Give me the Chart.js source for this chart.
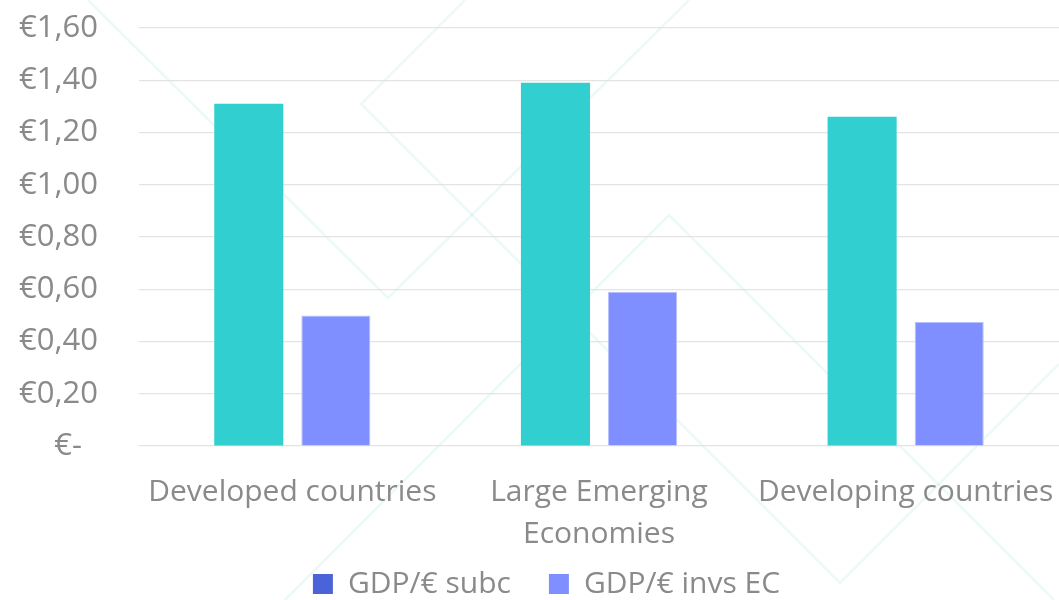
<!DOCTYPE html>
<html>
<head>
  <meta charset="utf-8"/>
  <script src="https://cdn.jsdelivr.net/npm/chart.js@4.4.1/dist/chart.umd.min.js"></script>
  <style>
    html, body { margin: 0; padding: 0; background: #ffffff; }
    #wrap { width: 1059px; height: 600px; position: relative; }
  </style>
</head>
<body>
  <div id="wrap"><canvas id="chart"></canvas></div>
  <script>
    // chart values
    var categories = ["Developed countries", ["Large Emerging", "Economies"], "Developing countries"];
    var seriesNames = ["GDP/\u20ac subc", "GDP/\u20ac invs EC"];
    var subcValues = [1.31, 1.39, 1.26];
    var invsValues = [0.50, 0.59, 0.475];
    var yTicks = [0, 0.2, 0.4, 0.6, 0.8, 1.0, 1.2, 1.4, 1.6];

    var barColors = ["#31cfcf", "#7f8fff"];
    var legendColors = ["#4b63d8", "#7f8fff"];
    var textColor = "#8a8a8a";
    var fontFamily = "'Open Sans', 'Noto Sans', sans-serif";

    // faint decorative lines in the slide background
    var decor = [
      [[88, 0], [388, 298], [689, 0]],
      [[465, 0], [361, 104], [840, 583], [1059, 364]],
      [[285, 600], [669, 215], [1054, 600]]
    ];

    var decorPlugin = {
      id: "decor",
      beforeDraw: function(chart) {
        var ctx = chart.ctx;
        ctx.save();
        ctx.strokeStyle = "rgba(0,180,150,0.08)";
        ctx.lineWidth = 2.5;
        for (var path of decor) {
          ctx.beginPath();
          ctx.moveTo(path[0][0], path[0][1]);
          for (var i = 1; i < path.length; i++) ctx.lineTo(path[i][0], path[i][1]);
          ctx.stroke();
        }
        ctx.restore();
      },
      afterLayout: function(chart) {
        // the legend sits a little right of centre in the original
        if (chart.legend) chart.legend.left = 34;
        // let the two-line category label run under the legend box instead of being clipped
        chart.scales.x.bottom = chart.height;
      }
    };

    function euro(v) {
      if (Math.abs(v) < 1e-9) return "\u20ac-  ";
      return "\u20ac" + v.toFixed(2).replace(".", ",");
    }

    new Chart(document.getElementById("chart"), {
      type: "bar",
      data: {
        labels: categories,
        datasets: [
          {
            label: seriesNames[0],
            data: subcValues,
            backgroundColor: barColors[0],
            borderWidth: 0
          },
          {
            label: seriesNames[1],
            data: invsValues,
            backgroundColor: barColors[1],
            borderColor: "#b9c1ff",
            borderWidth: 1
          }
        ]
      },
      options: {
        responsive: true,
        maintainAspectRatio: false,
        animation: false,
        layout: { padding: { top: 28, left: 0, right: 0, bottom: -9 } },
        datasets: {
          bar: { categoryPercentage: 0.568, barPercentage: 0.793 }
        },
        plugins: {
          tooltip: { enabled: false },
          legend: {
            position: "bottom",
            labels: {
              boxWidth: 20,
              boxHeight: 20,
              padding: 38,
              color: textColor,
              font: { family: fontFamily, size: 30 },
              generateLabels: function(chart) {
                return chart.data.datasets.map(function(ds, i) {
                  return {
                    text: ds.label,
                    fillStyle: legendColors[i],
                    strokeStyle: legendColors[i],
                    lineWidth: 0,
                    fontColor: textColor,
                    hidden: !chart.isDatasetVisible(i),
                    datasetIndex: i
                  };
                });
              }
            }
          }
        },
        scales: {
          x: {
            afterFit: function(scale) {
              scale.height = 85;
              scale.paddingLeft = 0;
              scale.paddingRight = 0;
            },
            grid: { display: false, drawTicks: false },
            border: { display: false },
            ticks: {
              color: textColor,
              padding: 25,
              maxRotation: 0,
              autoSkip: false,
              font: { family: fontFamily, size: 30, lineHeight: 1.4 }
            }
          },
          y: {
            min: 0,
            max: 1.6,
            afterFit: function(scale) {
              scale.width = 139;
              scale.paddingTop = 0;
              scale.paddingBottom = 0;
            },
            afterBuildTicks: function(scale) {
              scale.ticks = yTicks.map(function(v) { return { value: v }; });
            },
            grid: { color: "#e4e4e4", lineWidth: 1.2, drawTicks: false },
            border: { display: false },
            ticks: {
              color: textColor,
              padding: 41,
              font: { family: fontFamily, size: 31 },
              callback: function(v) { return euro(v); }
            }
          }
        }
      },
      plugins: [decorPlugin]
    });
  </script>
</body>
</html>
